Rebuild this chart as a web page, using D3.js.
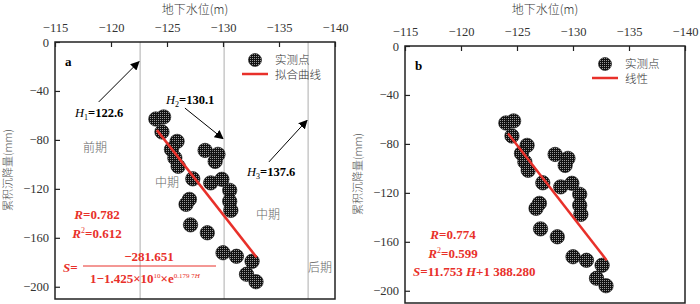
<!DOCTYPE html>
<html>
<head>
<meta charset="utf-8">
<script src="https://cdn.jsdelivr.net/npm/d3@7"></script>
<style>
  body { margin: 0; background: #fff; }
  text { font-family: "Liberation Serif", "DejaVu Serif", serif; }
  .cjk { font-family: "Noto Sans CJK SC", sans-serif; font-weight: 300; }
</style>
</head>
<body>
<div id="chart"></div>
<script>
// measured points: groundwater level H (m) vs cumulative settlement S (mm)
const waterLevel = [-124.0, -124.7, -124.55, -125.9, -125.4, -125.7, -126.0, -127.3, -128.4, -129.55,
                    -129.3, -128.9, -129.9, -130.6, -127.0, -130.6, -130.7, -126.7, -127.1, -128.6,
                    -130.0, -131.2, -132.6, -132.1, -132.95];
const settlement = [-62.9, -61.2, -73.5, -81.2, -87.8, -94.7, -101.6, -111.8, -88.6, -91.8,
                    -97.6, -115.1, -112.2, -121.2, -128.6, -130.2, -137.6, -132.7, -149.4, -155.9,
                    -172.2, -175.1, -179.2, -189.8, -195.9];
// fitted lines (end points)
const fitA = [[-124.1, -72], [-133.0, -176]];
const fitB = [[-124.2, -71.5], [-133.0, -175]];
// vertical stage boundaries in panel a
const boundaries = [-122.6, -130.1, -137.6];
const xTicks = [-115, -120, -125, -130, -135, -140];
const yTicks = [0, -40, -80, -120, -160, -200];

const RED = "#e8302a";
const width = 700, height = 304;

const svg = d3.select("#chart").append("svg")
    .attr("width", width)
    .attr("height", height);

// halftone texture for the dots
const defs = svg.append("defs");
const pat = defs.append("pattern")
    .attr("id", "dots")
    .attr("width", 2).attr("height", 2)
    .attr("patternUnits", "userSpaceOnUse");
pat.append("rect").attr("width", 2).attr("height", 2).attr("fill", "#111");
pat.append("rect").attr("width", 1).attr("height", 1).attr("fill", "#9a9a9a");

const marker = defs.append("marker")
    .attr("id", "arrow")
    .attr("viewBox", "0 0 10 10")
    .attr("refX", 9).attr("refY", 5)
    .attr("markerWidth", 9).attr("markerHeight", 9)
    .attr("markerUnits", "userSpaceOnUse")
    .attr("orient", "auto");
marker.append("path").attr("d", "M0,0 L10,5 L0,10 Z").attr("fill", "#000");

const points = waterLevel.map((h, i) => ({h: h, s: settlement[i]}));

function drawPanel(left, top, name, fit, legendLine) {
    const x = d3.scaleLinear().domain([-115, -140]).range([left, left + 280]);
    const y = d3.scaleLinear().domain([0, -210]).range([top, top + 257]);
    const g = svg.append("g");

    // axes
    const xAxis = g.append("g")
        .attr("transform", `translate(0,${top})`)
        .call(d3.axisTop(x).tickValues(xTicks).tickSize(-5).tickPadding(10));
    const yAxis = g.append("g")
        .attr("transform", `translate(${left},0)`)
        .call(d3.axisLeft(y).tickValues(yTicks).tickSize(-5).tickPadding(6));
    [xAxis, yAxis].forEach(a => {
        a.select(".domain").remove();
        a.selectAll(".tick line").attr("stroke", "#222").attr("stroke-width", 1.2);
        a.selectAll(".tick text").attr("font-size", 12.5).attr("fill", "#333")
            .style("font-family", "Liberation Serif");
    });

    // axis titles
    g.append("text").attr("class", "cjk")
        .attr("x", left + 140).attr("y", 14)
        .attr("text-anchor", "middle").attr("font-size", 12).attr("fill", "#333")
        .text("地下水位(m)");
    g.append("text").attr("class", "cjk")
        .attr("transform", `translate(${left - 43},${top + 128}) rotate(-90)`)
        .attr("text-anchor", "middle").attr("font-size", 11).attr("fill", "#555")
        .text("累积沉降量(mm)");

    // panel letter
    g.append("text")
        .attr("x", left + 10).attr("y", top + 24)
        .attr("font-size", 13).attr("font-weight", "bold")
        .text(name);

    // points
    g.append("g")
        .selectAll("circle")
        .data(points)
        .enter()
        .append("circle")
        .attr("cx", d => x(d.h))
        .attr("cy", d => y(d.s))
        .attr("r", 7.2)
        .attr("fill", "url(#dots)")
        .attr("stroke", "#111")
        .attr("stroke-width", 0.6);

    // fitted line
    g.append("path")
        .datum(fit)
        .attr("d", d3.line().x(d => x(d[0])).y(d => y(d[1])))
        .attr("stroke", RED)
        .attr("stroke-width", 2.5)
        .attr("fill", "none");

    // legend
    const lx = left + 200, ly = top + 18;
    g.append("circle").attr("cx", lx).attr("cy", ly).attr("r", 6.5)
        .attr("fill", "url(#dots)").attr("stroke", "#111").attr("stroke-width", 0.6);
    g.append("text").attr("class", "cjk").attr("x", lx + 20).attr("y", ly + 4)
        .attr("font-size", 11.5).attr("fill", "#333").text("实测点");
    g.append("line").attr("x1", lx - 13).attr("x2", lx + 13)
        .attr("y1", ly + 14).attr("y2", ly + 14)
        .attr("stroke", RED).attr("stroke-width", 2.5);
    g.append("text").attr("class", "cjk").attr("x", lx + 20).attr("y", ly + 19)
        .attr("font-size", 11.5).attr("fill", "#333").text(legendLine);

    // frame
    g.append("rect")
        .attr("x", left).attr("y", top)
        .attr("width", 280).attr("height", 257)
        .attr("fill", "none").attr("stroke", "#222").attr("stroke-width", 1.5);

    return {g: g, x: x, y: y};
}

// ---------- panel a ----------
const A = drawPanel(55, 42, "a", fitA, "拟合曲线");

A.g.insert("g", ":first-child")
    .selectAll("line")
    .data(boundaries)
    .enter()
    .append("line")
    .attr("x1", d => A.x(d)).attr("x2", d => A.x(d))
    .attr("y1", A.y(0)).attr("y2", A.y(-210))
    .attr("stroke", "#bbb").attr("stroke-width", 1.2);

// arrows
[[[-118.9, -49], [-122.5, -16]],
 [[-126.6, -54], [-130.0, -79]],
 [[-134.1, -98], [-137.5, -64]]].forEach(a => {
    A.g.append("line")
        .attr("x1", A.x(a[0][0])).attr("y1", A.y(a[0][1]))
        .attr("x2", A.x(a[1][0])).attr("y2", A.y(a[1][1]))
        .attr("stroke", "#000").attr("stroke-width", 1)
        .attr("marker-end", "url(#arrow)");
});

function hLabel(g, xPos, yPos, sub, value) {
    const t = g.append("text").attr("x", xPos).attr("y", yPos).attr("font-size", 12.5);
    t.append("tspan").attr("font-style", "italic").text("H");
    t.append("tspan").attr("font-size", 8).attr("dy", 3).text(sub);
    t.append("tspan").attr("font-weight", "bold").attr("dy", -3).text("=" + value);
}
hLabel(A.g, 75, 117, "1", "122.6");
hLabel(A.g, 166, 104, "2", "130.1");
hLabel(A.g, 247, 176, "3", "137.6");

[["前期", 95, 152], ["中期", 167, 187], ["中期", 268, 219], ["后期", 320, 272]].forEach(s => {
    A.g.append("text").attr("class", "cjk")
        .attr("x", s[1]).attr("y", s[2]).attr("text-anchor", "middle")
        .attr("font-size", 12).attr("fill", "#666").text(s[0]);
});

function rLabel(g, xPos, yPos, sup, value) {
    const t = g.append("text").attr("x", xPos).attr("y", yPos)
        .attr("text-anchor", "middle").attr("font-size", 13).attr("fill", RED);
    t.append("tspan").attr("font-style", "italic").attr("font-weight", "bold").text("R");
    if (sup) t.append("tspan").attr("font-size", 8).attr("dy", -5).text(sup);
    t.append("tspan").attr("font-weight", "bold").attr("dy", sup ? 5 : 0).text("=" + value);
}
rLabel(A.g, 97, 219, null, "0.782");
rLabel(A.g, 97, 238, "2", "0.612");

// S formula (panel a)
const sA = A.g.append("text").attr("x", 63).attr("y", 272).attr("font-size", 13).attr("fill", RED);
sA.append("tspan").attr("font-style", "italic").attr("font-weight", "bold").text("S");
sA.append("tspan").attr("font-weight", "bold").text("=");
A.g.append("line").attr("x1", 83).attr("x2", 216).attr("y1", 266).attr("y2", 266)
    .attr("stroke", RED).attr("stroke-width", 1);
A.g.append("text").attr("x", 149).attr("y", 261).attr("text-anchor", "middle")
    .attr("font-size", 13).attr("font-weight", "bold").attr("fill", RED).text("−281.651");
const den = A.g.append("text").attr("x", 90).attr("y", 283)
    .attr("font-size", 13).attr("font-weight", "bold").attr("fill", RED);
den.append("tspan").text("1−1.425×10");
den.append("tspan").attr("font-size", 7).attr("font-weight", "normal").attr("dy", -5).text("10");
den.append("tspan").attr("dy", 5).text("×e");
den.append("tspan").attr("font-size", 7).attr("font-weight", "normal").attr("dy", -5).text("0.179 7");
den.append("tspan").attr("font-size", 7).attr("font-style", "italic").attr("font-weight", "normal").text("H");

// ---------- panel b ----------
const B = drawPanel(405, 46, "b", fitB, "线性");
rLabel(B.g, 453, 239, null, "0.774");
rLabel(B.g, 453, 258, "2", "0.599");
const sB = B.g.append("text").attr("x", 413).attr("y", 276).attr("font-size", 13)
    .attr("font-weight", "bold").attr("fill", RED);
sB.append("tspan").attr("font-style", "italic").text("S");
sB.append("tspan").text("=11.753 ");
sB.append("tspan").attr("font-style", "italic").text("H");
sB.append("tspan").text("+1 388.280");
</script>
</body>
</html>
